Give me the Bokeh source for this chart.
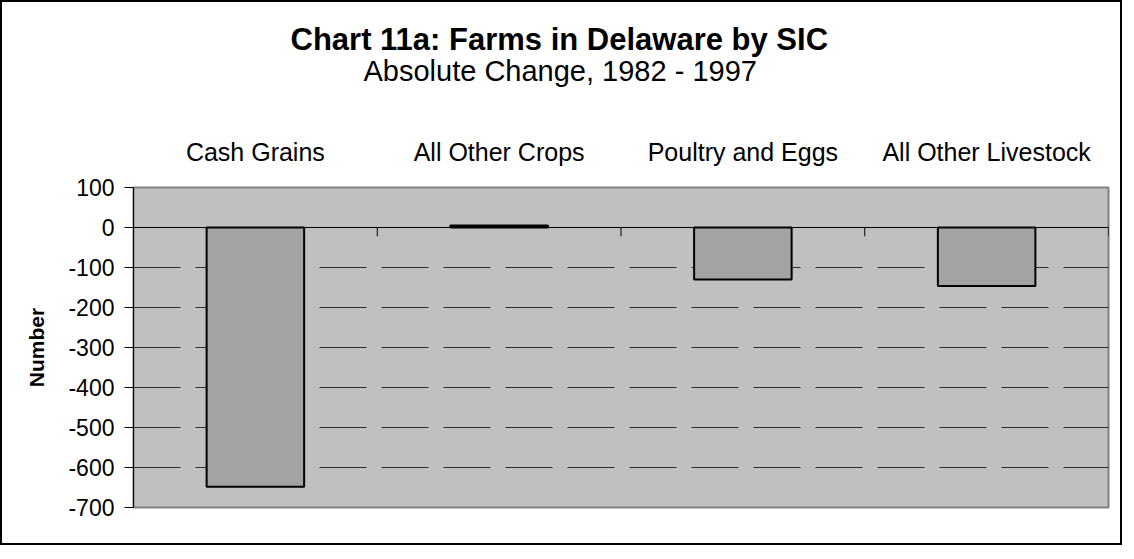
from bokeh.plotting import figure
from bokeh.models import FixedTicker, Title, Span, ColumnDataSource
from bokeh.embed import file_html
from bokeh.resources import INLINE

categories = ["Cash Grains", "All Other Crops", "Poultry and Eggs", "All Other Livestock"]
values = [-648, 5, -130, -146]
y_ticks = [100, 0, -100, -200, -300, -400, -500, -600, -700]

n = len(categories)
centers = [i + 0.5 for i in range(n)]
src = ColumnDataSource(dict(x=centers, top=values, bottom=[0] * n))

FONT = "Liberation Sans"

p = figure(width=1122, height=545, output_backend="svg", toolbar_location=None,
           x_range=(0, n), y_range=(min(y_ticks), max(y_ticks)),
           x_axis_location="above", min_border_left=131, min_border_right=16,
           min_border_bottom=40, min_border_top=185, title=None)
p.styles = {"border": "2px solid black"}
p.background_fill_color = "#C0C0C0"
p.border_fill_color = "white"
p.outline_line_color = "#808080"
p.outline_line_width = 2

# category labels on top
xa = p.xaxis[0]
xa.ticker = FixedTicker(ticks=centers)
xa.major_label_overrides = {c: lab for c, lab in zip(centers, categories)}
xa.axis_line_color = None
xa.major_tick_line_color = None
xa.minor_tick_line_color = None
xa.major_label_text_font = FONT
xa.major_label_text_font_size = "25px"
xa.major_label_standoff = 16
xa.major_label_text_color = "black"
xa.axis_label = " "
xa.axis_label_text_font_size = "30px"
xa.axis_label_standoff = 12

ya = p.yaxis[0]
ya.ticker = FixedTicker(ticks=y_ticks)
ya.major_label_overrides = {t: str(t) for t in y_ticks}
ya.axis_line_color = "black"
ya.major_tick_in = 0
ya.major_tick_out = 9
ya.minor_tick_line_color = None
ya.major_label_text_font = FONT
ya.major_label_text_font_size = "23px"
ya.major_label_text_color = "black"
ya.major_label_standoff = 10
ya.axis_label = "Number"
ya.axis_label_text_font = FONT
ya.axis_label_text_font_style = "bold"
ya.axis_label_text_font_size = "21px"
ya.axis_label_text_color = "black"
ya.axis_label_standoff = 17

p.xgrid.grid_line_color = None
p.ygrid.ticker = FixedTicker(ticks=y_ticks)
p.ygrid.grid_line_color = "#303030"
p.ygrid.grid_line_width = 1
p.ygrid.grid_line_dash = "47 15"

p.vbar(x="x", top="top", bottom="bottom", width=0.4, source=src,
       fill_color="#A3A3A3", line_color="black", line_width=2)

p.add_layout(Span(location=0, dimension="width", line_color="black", line_width=1))
bounds = list(range(n + 1))
p.segment(x0=bounds, x1=bounds, y0=[0] * (n + 1), y1=[-22] * (n + 1),
          line_color="black", line_width=1)

sub = Title(text="Absolute Change, 1982 - 1997", align="left", text_font=FONT,
            text_font_size="29px", text_font_style="normal", text_color="black",
            standoff=0, offset=230)
p.add_layout(sub, "above")
main = Title(text="Chart 11a: Farms in Delaware by SIC", align="left", text_font=FONT,
             text_font_size="31px", text_font_style="bold", text_color="black",
             standoff=-8, offset=157)
p.add_layout(main, "above")

open("out.html", "w").write(file_html(p, INLINE))
